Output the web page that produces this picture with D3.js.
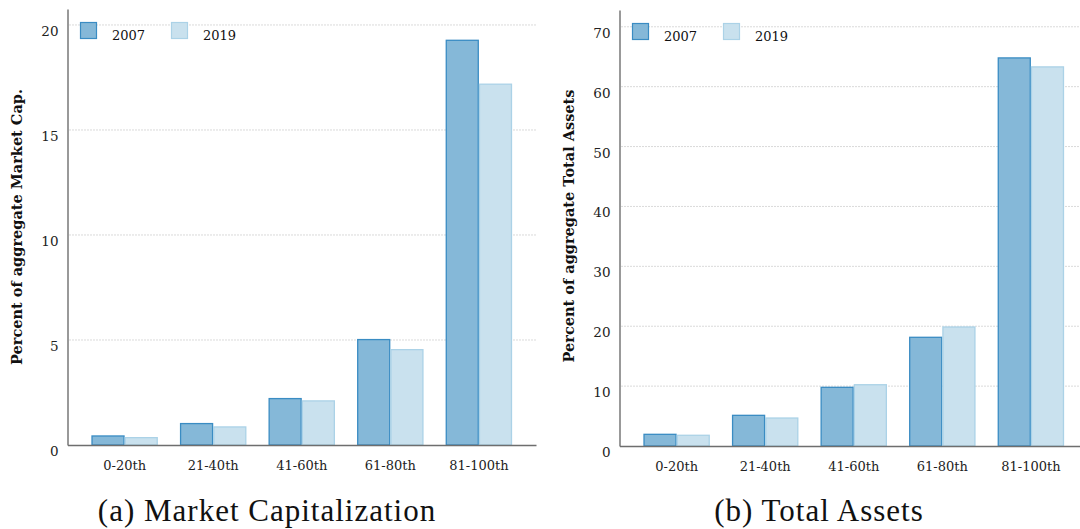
<!DOCTYPE html>
<html>
<head>
<meta charset="utf-8">
<script src="https://cdn.jsdelivr.net/npm/d3@7"></script>
<style>
  html, body { margin: 0; padding: 0; background: #fff; }
  svg { display: block; }
</style>
</head>
<body>
<svg id="fig" width="1080" height="529"></svg>
<script>
// Size-percentile groups
const categories = ["0-20th", "21-40th", "41-60th", "61-80th", "81-100th"];
const years = ["2007", "2019"];

// Share of aggregate market capitalization (%)
const marketCap2007 = [0.43, 1.02, 2.21, 5.02, 19.27];
const marketCap2019 = [0.35, 0.86, 2.10, 4.54, 17.18];

// Share of aggregate total assets (%)
const totalAssets2007 = [1.95, 5.12, 9.80, 18.15, 64.8];
const totalAssets2019 = [1.79, 4.67, 10.23, 19.87, 63.3];

// Y tick values
const marketCapTicks = [0, 5, 10, 15, 20];
const totalAssetsTicks = [0, 10, 20, 30, 40, 50, 60, 70];

const SERIF = "'DejaVu Serif', serif";
const fills = { "2007": "#85b8d8", "2019": "#c9e1ee" };
const strokes = { "2007": "#3a8cc3", "2019": "#abd2e7" };

const svg = d3.select("#fig");

function drawPanel(cfg) {
  const g = svg.append("g");
  const x = d3.scaleBand()
    .domain(categories)
    .range(cfg.xRange)
    .paddingInner(0.25)
    .paddingOuter(0.27);
  const xi = d3.scaleBand().domain(years).range([0, x.bandwidth()]);
  const y = d3.scaleLinear().domain([0, cfg.yMax]).range(cfg.yRange);

  // dotted horizontal gridlines
  g.append("g").selectAll("line")
    .data(cfg.ticks.filter(t => t > 0))
    .join("line")
    .attr("x1", cfg.xRange[0] + 2)
    .attr("x2", cfg.xRange[1])
    .attr("y1", d => y(d)).attr("y2", d => y(d))
    .attr("stroke", "#b4b4b4")
    .attr("stroke-width", 1)
    .attr("stroke-dasharray", "1,2");

  // grouped bars
  const rows = categories.map((c, i) => ({ cat: c, vals: [
    { year: "2007", v: cfg.s2007[i] },
    { year: "2019", v: cfg.s2019[i] }
  ]}));
  const grp = g.append("g").selectAll("g")
    .data(rows).join("g")
    .attr("transform", d => `translate(${x(d.cat)},0)`);
  grp.selectAll("rect")
    .data(d => d.vals).join("rect")
    .attr("x", d => xi(d.year) + 0.6)
    .attr("width", xi.bandwidth() - 1.2)
    .attr("y", d => y(d.v))
    .attr("height", d => y(0) - y(d.v))
    .attr("fill", d => fills[d.year])
    .attr("stroke", d => strokes[d.year])
    .attr("stroke-width", 1.3);

  // y axis
  const ya = g.append("g")
    .attr("transform", `translate(${cfg.xRange[0]},0)`)
    .call(d3.axisLeft(y).tickValues(cfg.ticks).tickSize(0).tickSizeOuter(0).tickPadding(9));
  ya.attr("font-family", SERIF);
  ya.select(".domain").attr("stroke", "#555").attr("stroke-width", 1.2);
  ya.selectAll(".tick text")
    .attr("font-family", SERIF)
    .attr("font-size", 13.5)
    .attr("fill", "#222")
    .attr("dy", "0.78em");

  // x axis
  const xa = g.append("g")
    .attr("transform", `translate(0,${y(0)})`)
    .call(d3.axisBottom(x).tickSize(0).tickSizeOuter(0).tickPadding(16));
  xa.attr("font-family", SERIF);
  xa.select(".domain").attr("stroke", "#6e6e6e").attr("stroke-width", 1.6);
  xa.selectAll(".tick text")
    .attr("font-family", SERIF)
    .attr("font-size", 13)
    .attr("fill", "#222");

  // y-axis title
  g.append("text")
    .attr("transform", `translate(${cfg.titleX},${cfg.titleY}) rotate(-90)`)
    .attr("text-anchor", "middle")
    .attr("font-family", SERIF)
    .attr("font-weight", "bold")
    .attr("font-size", 14.5)
    .attr("fill", "#111")
    .text(cfg.yTitle);

  // legend
  const lg = g.append("g").attr("transform", `translate(${cfg.legendX},${cfg.legendY})`);
  const items = lg.selectAll("g").data(years).join("g")
    .attr("transform", (d, i) => `translate(${i * 91},0)`);
  items.append("rect")
    .attr("x", 0.5).attr("y", 0.5)
    .attr("width", 16).attr("height", 16)
    .attr("fill", d => fills[d])
    .attr("stroke", d => strokes[d])
    .attr("stroke-width", 1.2);
  items.append("text")
    .attr("x", 32).attr("y", 17.5)
    .attr("font-family", SERIF)
    .attr("font-size", 13)
    .attr("fill", "#111")
    .text(d => d);

  // caption
  svg.append("text")
    .attr("x", cfg.captionX).attr("y", 521)
    .attr("text-anchor", "middle")
    .attr("font-family", "'Liberation Serif', serif")
    .attr("font-size", 31)
    .attr("letter-spacing", 1)
    .attr("fill", "#111")
    .text(cfg.caption);
}

drawPanel({
  xRange: [67.5, 536], yRange: [445, 9], yMax: 20.76,
  ticks: marketCapTicks, s2007: marketCap2007, s2019: marketCap2019,
  yTitle: "Percent of aggregate Market Cap.", titleX: 22, titleY: 227,
  legendX: 80, legendY: 22, caption: "(a) Market Capitalization", captionX: 267
});

drawPanel({
  xRange: [619.5, 1088], yRange: [446, 10], yMax: 72.8,
  ticks: totalAssetsTicks, s2007: totalAssets2007, s2019: totalAssets2019,
  yTitle: "Percent of aggregate Total Assets", titleX: 574, titleY: 226,
  legendX: 632, legendY: 23, caption: "(b) Total Assets", captionX: 819
});
</script>
</body>
</html>
